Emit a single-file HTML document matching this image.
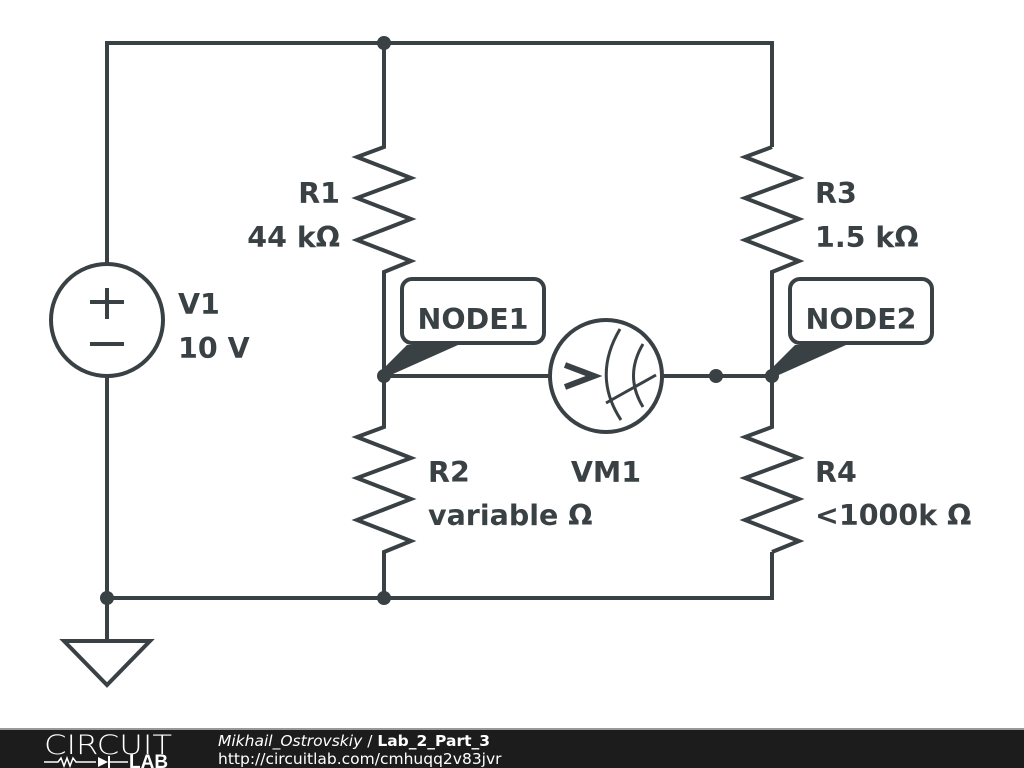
<!DOCTYPE html>
<html><head><meta charset="utf-8"><style>
body{margin:0;background:#fff;width:1024px;height:768px;overflow:hidden;position:relative;font-family:"Liberation Sans","DejaVu Sans",sans-serif}
svg{position:absolute;left:0;top:0}
.t{font-family:"DejaVu Sans","Liberation Sans",sans-serif;font-weight:bold;font-size:28.5px;fill:#3a4145}
</style></head><body>
<svg width="1024" height="768" viewBox="0 0 1024 768">
<g stroke="#3a4145" stroke-width="4" fill="none" stroke-linejoin="miter">
<polyline points="107,264 107,43 772,43 772,147"/>
<polyline points="107,376 107,598 772,598 772,552"/>
<line x1="107" y1="598" x2="107" y2="640"/>
<polygon points="64,641 150,641 107,685"/>
<circle cx="107" cy="320" r="56" fill="#fff"/>
<line x1="107" y1="288" x2="107" y2="319"/><line x1="90" y1="302" x2="124" y2="302"/>
<line x1="90" y1="344" x2="124" y2="344"/>
<polyline points="384,43 384,147 357,157 411,178 357,198 411,219 357,240 411,261 384,272 384,427 357,437 411,458 357,478 411,499 357,520 411,541 384,552 384,598"/>
<polyline points="772,147 745,157 799,178 745,198 799,219 745,240 799,261 772,272 772,427 745,437 799,458 745,478 799,499 745,520 799,541 772,552"/>
<line x1="384" y1="376" x2="550" y2="376"/><line x1="662" y1="376" x2="772" y2="376"/>
<circle cx="606" cy="376" r="56" fill="#fff"/>
<g stroke-width="3">
<path d="M620,329 Q592,376 621,420"/><path d="M643,344 Q624,376 643,407"/>
<line x1="606" y1="403" x2="656" y2="375"/>
</g>
<rect x="402" y="279" width="142" height="64" rx="10" fill="#fff"/>
<rect x="790" y="279" width="142" height="64" rx="10" fill="#fff"/>
</g>
<polyline points="565,365 594,376 565,387" stroke="#3a4145" stroke-width="6" fill="none"/>
<g fill="#3a4145">
<polygon points="407,345 458,345 384,378 380,372"/>
<polygon points="795,345 846,345 772,378 768,372"/>
<circle cx="384" cy="43" r="7"/><circle cx="384" cy="376" r="7"/><circle cx="772" cy="376" r="7"/>
<circle cx="716" cy="376" r="7"/><circle cx="107" cy="598" r="7"/><circle cx="384" cy="598" r="7"/>
</g>
<text class="t" x="473" y="329" text-anchor="middle">NODE1</text>
<text class="t" x="861" y="329" text-anchor="middle">NODE2</text>
<text class="t" x="340" y="203" text-anchor="end">R1</text>
<text class="t" x="340" y="247" text-anchor="end">44 kΩ</text>
<text class="t" x="178" y="314">V1</text>
<text class="t" x="178" y="358">10 V</text>
<text class="t" x="428" y="482">R2</text>
<text class="t" x="428" y="525">variable Ω</text>
<text class="t" x="606" y="482" text-anchor="middle">VM1</text>
<text class="t" x="815" y="203">R3</text>
<text class="t" x="815" y="247">1.5 kΩ</text>
<text class="t" x="815" y="482">R4</text>
<text class="t" x="815" y="525">&lt;1000k Ω</text>
<rect x="0" y="730" width="1024" height="38" fill="#1c1c1c"/>
<rect x="0" y="728" width="1024" height="2" fill="#999"/>
<text x="44" y="754" fill="#fff" font-size="27" font-family="DejaVu Sans,sans-serif" textLength="128" lengthAdjust="spacingAndGlyphs" style="font-weight:200">CIRCUIT</text>
<polyline points="44,762 58,762 61,758 64,766 67,758 70,766 73,758 76,762 96,762" stroke="#fff" stroke-width="1.5" fill="none"/>
<polygon points="98,757 98,767 108,762" fill="#fff"/><line x1="109" y1="756" x2="109" y2="768" stroke="#fff" stroke-width="2"/>
<line x1="109" y1="762" x2="128" y2="762" stroke="#fff" stroke-width="1.5"/>
<text x="129" y="768" fill="#fff" font-size="19" font-weight="bold" font-family="Liberation Sans,sans-serif">LAB</text>
<text x="218" y="746" fill="#fff" font-size="15.5" font-family="DejaVu Sans,sans-serif"><tspan font-style="italic">Mikhail_Ostrovskiy</tspan> / <tspan font-weight="bold">Lab_2_Part_3</tspan></text>
<text x="218" y="764" fill="#fff" font-size="15.5" font-family="DejaVu Sans,sans-serif">http://circuitlab.com/cmhuqq2v83jvr</text>
</svg>
</body></html>
